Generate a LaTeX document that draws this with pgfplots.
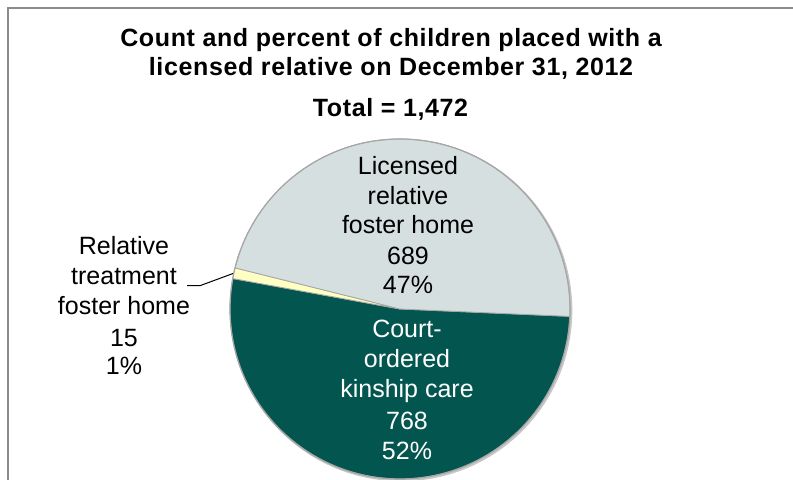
\documentclass[border=0pt]{standalone}
\usepackage{pgfplots}
\pgfplotsset{compat=1.18}
\usepackage{fontspec}
\setmainfont{Liberation Sans}
\definecolor{pgray}{HTML}{D6DFDF}
\definecolor{pgreen}{HTML}{03564F}
\definecolor{pyellow}{HTML}{FFFFC4}
\definecolor{pedge}{HTML}{A6A6A6}
\definecolor{framecol}{HTML}{8C8C8C}
% data: counts
\def\vGreen{768}\def\vYellow{15}\def\vGray{689}
\pgfmathsetmacro\tot{\vGreen+\vYellow+\vGray}
\pgfmathsetmacro\aA{-2.5}
\pgfmathsetmacro\aB{\aA-360*(\vGreen/\tot)}
\pgfmathsetmacro\aC{\aB-360*(\vYellow/\tot)}
\pgfmathsetmacro\aD{\aC-360*(\vGray/\tot)}
\def\cx{400}\def\cy{171}\def\R{170bp}
\tikzset{
  lab/.style={font=\fontsize{25bp}{30bp}\selectfont, inner sep=0pt, anchor=base},
  ttl/.style={font=\addfontfeature{LetterSpace=2.5}\bfseries\fontsize{25bp}{30bp}\selectfont, inner sep=0pt, anchor=base},
}
\begin{document}
\begin{tikzpicture}
\begin{axis}[
  width=793bp, height=480bp, scale only axis,
  xmin=0, xmax=793, ymin=0, ymax=480,
  hide axis, clip=true,
]
\path (axis cs:0,0) rectangle (axis cs:793,480);
% frame
\draw[framecol, line width=2bp] (axis cs:7.5,0) -- (axis cs:7.5,472) -- (axis cs:793,472);
% shadow
\draw[gray!45, line width=2.2bp] (axis cs:\cx+1.2,\cy-1.2) circle[radius=\R];
% slices
\filldraw[fill=pgreen, draw=pedge, line width=0.8bp] (axis cs:\cx,\cy) -- ++(\aA:\R) arc[start angle=\aA, end angle=\aB, radius=\R] -- cycle;
\filldraw[fill=pyellow, draw=pedge, line width=0.8bp] (axis cs:\cx,\cy) -- ++(\aB:\R) arc[start angle=\aB, end angle=\aC, radius=\R] -- cycle;
\filldraw[fill=pgray, draw=pedge, line width=0.8bp] (axis cs:\cx,\cy) -- ++(\aC:\R) arc[start angle=\aC, end angle=\aD, radius=\R] -- cycle;
\draw[pedge, line width=1.2bp] (axis cs:\cx,\cy) circle[radius=\R];
% title
\node[ttl] at (axis cs:391,433.3) {Count and percent of children placed with a};
\node[ttl] at (axis cs:391,404) {licensed relative on December 31, 2012};
\node[ttl] at (axis cs:390.5,363.3) {Total = 1,472};
% gray label
\node[lab] at (axis cs:408,305) {Licensed};
\node[lab] at (axis cs:408,275.7) {relative};
\node[lab] at (axis cs:408,246.7) {foster home};
\node[lab] at (axis cs:408,215) {689};
\node[lab] at (axis cs:408,186) {47\%};
% green label
\node[lab,text=white] at (axis cs:407,142.7) {Court-};
\node[lab,text=white] at (axis cs:407,112.7) {ordered};
\node[lab,text=white] at (axis cs:407,82.7) {kinship care};
\node[lab,text=white] at (axis cs:407,50.7) {768};
\node[lab,text=white] at (axis cs:407,20.7) {52\%};
% yellow label
\node[lab] at (axis cs:124,225) {Relative};
\node[lab] at (axis cs:124,195) {treatment};
\node[lab] at (axis cs:124,165) {foster home};
\node[lab] at (axis cs:124,133.3) {15};
\node[lab] at (axis cs:124,105) {1\%};
\draw[black, line width=1bp] (axis cs:187,194.3) -- (axis cs:200,194.3) -- (axis cs:233,206.5);
\end{axis}
\end{tikzpicture}
\end{document}
